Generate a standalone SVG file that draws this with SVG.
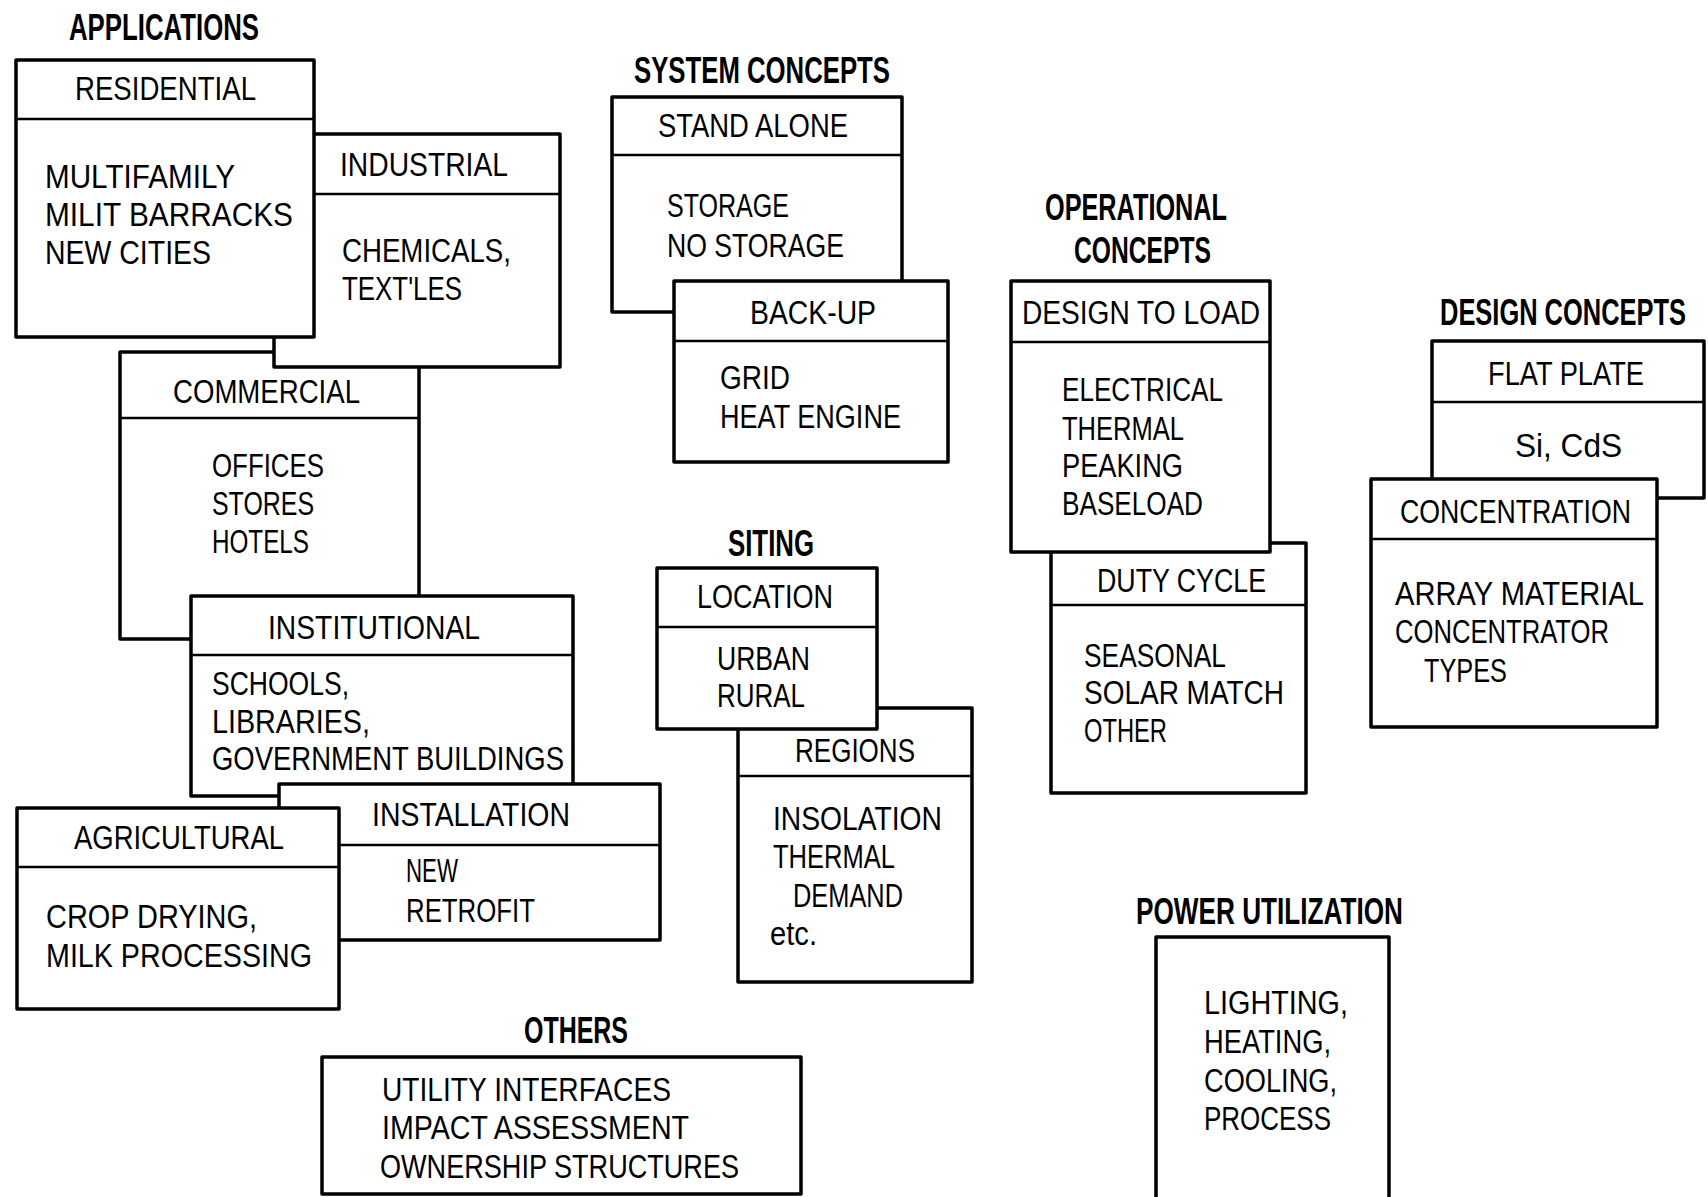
<svg xmlns="http://www.w3.org/2000/svg" width="1708" height="1197" viewBox="0 0 1708 1197">
<style>
.box{fill:#fff;stroke:#000;stroke-width:3.5;stroke-linejoin:round}
.div{stroke:#000;stroke-width:2.5}
.t{font-family:"Liberation Sans",Arial,sans-serif;font-size:34px;fill:#000}
.h{font-family:"Liberation Sans",Arial,sans-serif;font-size:37px;font-weight:bold;fill:#000}
</style>
<rect width="1708" height="1197" fill="#fff"/>
<g id="titles">
<text class="h" x="69" y="40" textLength="190" lengthAdjust="spacingAndGlyphs">APPLICATIONS</text>
<text class="h" x="634" y="83" textLength="256" lengthAdjust="spacingAndGlyphs">SYSTEM CONCEPTS</text>
<text class="h" x="1045" y="220" textLength="182" lengthAdjust="spacingAndGlyphs">OPERATIONAL</text>
<text class="h" x="1074" y="263" textLength="137" lengthAdjust="spacingAndGlyphs">CONCEPTS</text>
<text class="h" x="1686" y="325" text-anchor="end" textLength="246" lengthAdjust="spacingAndGlyphs">DESIGN CONCEPTS</text>
<text class="h" x="728" y="556" textLength="86" lengthAdjust="spacingAndGlyphs">SITING</text>
<text class="h" x="524" y="1043" textLength="104" lengthAdjust="spacingAndGlyphs">OTHERS</text>
<text class="h" x="1136" y="924" textLength="267" lengthAdjust="spacingAndGlyphs">POWER UTILIZATION</text>
</g>
<g id="connectors"></g>
<g id="commercial">
<rect class="box" x="120" y="352" width="299" height="287"/>
<line class="div" x1="120" y1="418" x2="419" y2="418"/>
<text class="t" x="173" y="403" textLength="187" lengthAdjust="spacingAndGlyphs">COMMERCIAL</text>
<text class="t" x="212" y="477" textLength="112" lengthAdjust="spacingAndGlyphs">OFFICES</text>
<text class="t" x="212" y="515" textLength="102" lengthAdjust="spacingAndGlyphs">STORES</text>
<text class="t" x="212" y="553" textLength="97" lengthAdjust="spacingAndGlyphs">HOTELS</text>
</g>
<g id="industrial">
<rect class="box" x="274" y="134" width="286" height="233"/>
<line class="div" x1="274" y1="194" x2="560" y2="194"/>
<text class="t" x="340" y="176" textLength="168" lengthAdjust="spacingAndGlyphs">INDUSTRIAL</text>
<text class="t" x="342" y="262" textLength="169" lengthAdjust="spacingAndGlyphs">CHEMICALS,</text>
<text class="t" x="342" y="300" textLength="120" lengthAdjust="spacingAndGlyphs">TEXT'LES</text>
</g>
<g id="residential">
<rect class="box" x="16" y="60" width="298" height="277"/>
<line class="div" x1="16" y1="119" x2="314" y2="119"/>
<text class="t" x="75" y="100" textLength="181" lengthAdjust="spacingAndGlyphs">RESIDENTIAL</text>
<text class="t" x="45" y="188" textLength="190" lengthAdjust="spacingAndGlyphs">MULTIFAMILY</text>
<text class="t" x="45" y="226" textLength="248" lengthAdjust="spacingAndGlyphs">MILIT BARRACKS</text>
<text class="t" x="45" y="264" textLength="166" lengthAdjust="spacingAndGlyphs">NEW CITIES</text>
</g>
<g id="institutional">
<rect class="box" x="191" y="596" width="382" height="200"/>
<line class="div" x1="191" y1="655" x2="573" y2="655"/>
<text class="t" x="268" y="639" textLength="212" lengthAdjust="spacingAndGlyphs">INSTITUTIONAL</text>
<text class="t" x="212" y="695" textLength="137" lengthAdjust="spacingAndGlyphs">SCHOOLS,</text>
<text class="t" x="212" y="733" textLength="158" lengthAdjust="spacingAndGlyphs">LIBRARIES,</text>
<text class="t" x="212" y="770" textLength="352" lengthAdjust="spacingAndGlyphs">GOVERNMENT BUILDINGS</text>
</g>
<g id="installation">
<rect class="box" x="279" y="784" width="381" height="156"/>
<line class="div" x1="279" y1="845" x2="660" y2="845"/>
<text class="t" x="372" y="826" textLength="198" lengthAdjust="spacingAndGlyphs">INSTALLATION</text>
<text class="t" x="406" y="882" textLength="52" lengthAdjust="spacingAndGlyphs">NEW</text>
<text class="t" x="406" y="922" textLength="129" lengthAdjust="spacingAndGlyphs">RETROFIT</text>
</g>
<g id="agricultural">
<rect class="box" x="17" y="808" width="322" height="201"/>
<line class="div" x1="17" y1="867" x2="339" y2="867"/>
<text class="t" x="74" y="849" textLength="210" lengthAdjust="spacingAndGlyphs">AGRICULTURAL</text>
<text class="t" x="46" y="928" textLength="211" lengthAdjust="spacingAndGlyphs">CROP DRYING,</text>
<text class="t" x="46" y="967" textLength="266" lengthAdjust="spacingAndGlyphs">MILK PROCESSING</text>
</g>
<g id="others">
<rect class="box" x="322" y="1057" width="479" height="137"/>
<text class="t" x="382" y="1101" textLength="289" lengthAdjust="spacingAndGlyphs">UTILITY INTERFACES</text>
<text class="t" x="382" y="1139" textLength="307" lengthAdjust="spacingAndGlyphs">IMPACT ASSESSMENT</text>
<text class="t" x="380" y="1178" textLength="359" lengthAdjust="spacingAndGlyphs">OWNERSHIP STRUCTURES</text>
</g>
<g id="stand-alone">
<rect class="box" x="612" y="97" width="290" height="215"/>
<line class="div" x1="612" y1="155" x2="902" y2="155"/>
<text class="t" x="658" y="137" textLength="190" lengthAdjust="spacingAndGlyphs">STAND ALONE</text>
<text class="t" x="667" y="217" textLength="122" lengthAdjust="spacingAndGlyphs">STORAGE</text>
<text class="t" x="667" y="257" textLength="177" lengthAdjust="spacingAndGlyphs">NO STORAGE</text>
</g>
<g id="back-up">
<rect class="box" x="674" y="281" width="274" height="181"/>
<line class="div" x1="674" y1="341" x2="948" y2="341"/>
<text class="t" x="750" y="324" textLength="126" lengthAdjust="spacingAndGlyphs">BACK-UP</text>
<text class="t" x="720" y="389" textLength="70" lengthAdjust="spacingAndGlyphs">GRID</text>
<text class="t" x="720" y="428" textLength="181" lengthAdjust="spacingAndGlyphs">HEAT ENGINE</text>
</g>
<g id="duty-cycle">
<rect class="box" x="1051" y="543" width="255" height="250"/>
<line class="div" x1="1051" y1="605" x2="1306" y2="605"/>
<text class="t" x="1097" y="592" textLength="169" lengthAdjust="spacingAndGlyphs">DUTY CYCLE</text>
<text class="t" x="1084" y="667" textLength="142" lengthAdjust="spacingAndGlyphs">SEASONAL</text>
<text class="t" x="1084" y="704" textLength="200" lengthAdjust="spacingAndGlyphs">SOLAR MATCH</text>
<text class="t" x="1084" y="742" textLength="83" lengthAdjust="spacingAndGlyphs">OTHER</text>
</g>
<g id="design-to-load">
<rect class="box" x="1011" y="281" width="259" height="271"/>
<line class="div" x1="1011" y1="342" x2="1270" y2="342"/>
<text class="t" x="1022" y="324" textLength="238" lengthAdjust="spacingAndGlyphs">DESIGN TO LOAD</text>
<text class="t" x="1062" y="401" textLength="161" lengthAdjust="spacingAndGlyphs">ELECTRICAL</text>
<text class="t" x="1062" y="440" textLength="122" lengthAdjust="spacingAndGlyphs">THERMAL</text>
<text class="t" x="1062" y="477" textLength="121" lengthAdjust="spacingAndGlyphs">PEAKING</text>
<text class="t" x="1062" y="515" textLength="141" lengthAdjust="spacingAndGlyphs">BASELOAD</text>
</g>
<g id="flat-plate">
<rect class="box" x="1432" y="341" width="272" height="157"/>
<line class="div" x1="1432" y1="402" x2="1704" y2="402"/>
<text class="t" x="1488" y="385" textLength="156" lengthAdjust="spacingAndGlyphs">FLAT PLATE</text>
<text class="t" x="1515" y="457" textLength="107" lengthAdjust="spacingAndGlyphs">Si, CdS</text>
</g>
<g id="concentration">
<rect class="box" x="1371" y="479" width="286" height="248"/>
<line class="div" x1="1371" y1="539" x2="1657" y2="539"/>
<text class="t" x="1400" y="523" textLength="231" lengthAdjust="spacingAndGlyphs">CONCENTRATION</text>
<text class="t" x="1395" y="605" textLength="249" lengthAdjust="spacingAndGlyphs">ARRAY MATERIAL</text>
<text class="t" x="1395" y="643" textLength="214" lengthAdjust="spacingAndGlyphs">CONCENTRATOR</text>
<text class="t" x="1424" y="682" textLength="83" lengthAdjust="spacingAndGlyphs">TYPES</text>
</g>
<g id="regions">
<rect class="box" x="738" y="708" width="234" height="274"/>
<line class="div" x1="738" y1="776" x2="972" y2="776"/>
<text class="t" x="795" y="762" textLength="120" lengthAdjust="spacingAndGlyphs">REGIONS</text>
<text class="t" x="773" y="830" textLength="169" lengthAdjust="spacingAndGlyphs">INSOLATION</text>
<text class="t" x="773" y="868" textLength="122" lengthAdjust="spacingAndGlyphs">THERMAL</text>
<text class="t" x="793" y="907" textLength="110" lengthAdjust="spacingAndGlyphs">DEMAND</text>
<text class="t" x="770" y="945" textLength="47" lengthAdjust="spacingAndGlyphs">etc.</text>
</g>
<g id="location">
<rect class="box" x="657" y="568" width="220" height="161"/>
<line class="div" x1="657" y1="627" x2="877" y2="627"/>
<text class="t" x="697" y="608" textLength="136" lengthAdjust="spacingAndGlyphs">LOCATION</text>
<text class="t" x="717" y="670" textLength="93" lengthAdjust="spacingAndGlyphs">URBAN</text>
<text class="t" x="717" y="707" textLength="88" lengthAdjust="spacingAndGlyphs">RURAL</text>
</g>
<g id="power-utilization">
<rect class="box" x="1156" y="937" width="233" height="275"/>
<text class="t" x="1204" y="1014" textLength="144" lengthAdjust="spacingAndGlyphs">LIGHTING,</text>
<text class="t" x="1204" y="1053" textLength="127" lengthAdjust="spacingAndGlyphs">HEATING,</text>
<text class="t" x="1204" y="1092" textLength="133" lengthAdjust="spacingAndGlyphs">COOLING,</text>
<text class="t" x="1204" y="1130" textLength="127" lengthAdjust="spacingAndGlyphs">PROCESS</text>
</g>
</svg>
